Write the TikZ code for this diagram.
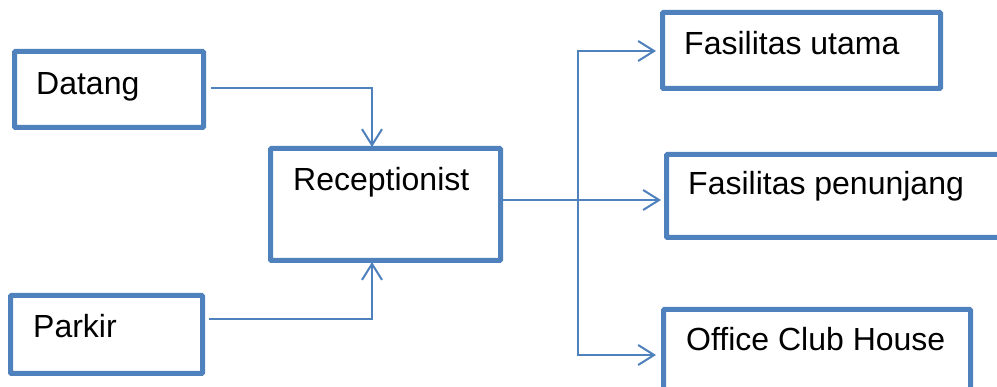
\documentclass[tikz,border=0pt]{standalone}
\usepackage{fontspec}
\setmainfont{Liberation Sans}
\usetikzlibrary{arrows.meta}
\definecolor{boxblue}{HTML}{4F81BD}
\begin{document}
\begin{tikzpicture}[x=1pt,y=-1pt,
  box/.style={draw=boxblue,line width=5pt,rectangle,inner sep=0pt,rounded corners=1pt},
  lbl/.style={anchor=base west,inner sep=0pt,font=\fontsize{32}{38}\selectfont},
  conn/.style={draw=boxblue,line width=2pt},
  arr/.style={conn,-{Straight Barb[length=16pt,width=20pt,line width=2pt]}}]
\useasboundingbox (0,0) rectangle (997,387);
\fill[white] (0,0) rectangle (997,387);
% boxes
\node[box,minimum width=189pt,minimum height=76pt] (datang) at (109,89.5) {};
\node[box,minimum width=230pt,minimum height=112pt] (recep) at (385.5,204.5) {};
\node[box,minimum width=192pt,minimum height=78pt] (parkir) at (106.5,334.5) {};
\node[box,minimum width=278pt,minimum height=76pt] (futama) at (801.5,50.5) {};
\node[box,minimum width=433pt,minimum height=83pt] (fpen) at (883,196) {};
\node[box,minimum width=307pt,minimum height=111pt] (office) at (817,365) {};
% labels
\node[lbl] (tdatang) at (36,95) {Datang};
\node[lbl] (trecep) at (293,191) {Receptionist};
\node[lbl] (tparkir) at (33,338) {Parkir};
\node[lbl] (tfutama) at (684,55) {Fasilitas utama};
\node[lbl] (tfpen) at (688,195) {Fasilitas penunjang};
\node[lbl] (toffice) at (686,351) {Office Club House};
% connectors
\coordinate (dstart) at (211,88);
\coordinate (rtop) at (372,147);
\draw[arr] (dstart) -| (rtop);
\coordinate (pstart) at (209,319);
\coordinate (rbot) at (372,262);
\draw[arr] (pstart) -| (rbot);
\coordinate (rout) at (503,200);
\coordinate (pin) at (661,200);
\draw[arr] (rout) -- (pin);
\coordinate (bt) at (578,51);
\coordinate (bb) at (578,355);
\coordinate (uin) at (656,51);
\coordinate (oin) at (656,355);
\draw[conn] (bt) -- (bb);
\draw[arr] ([xshift=-1pt]bt) -- (uin);
\draw[arr] ([xshift=-1pt]bb) -- (oin);
\end{tikzpicture}
\end{document}
